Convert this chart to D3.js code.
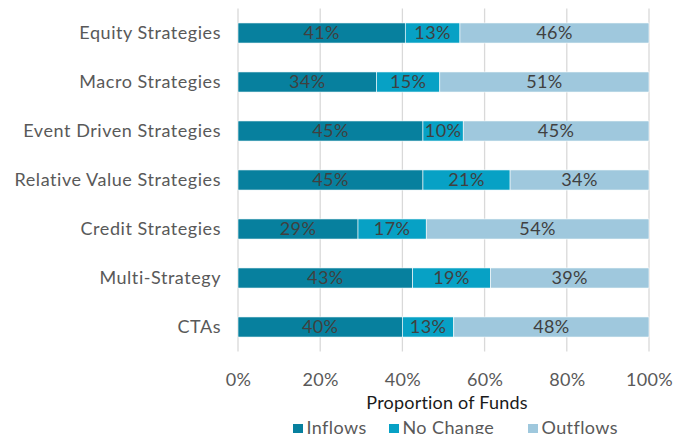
<!DOCTYPE html>
<meta charset="utf-8">
<style>
  body { margin: 0; background: #fff; }
  text { font-family: "Lato", "DejaVu Sans", sans-serif; }
</style>
<svg width="687" height="434"></svg>
<script src="https://d3js.org/d3.v7.min.js"></script>
<script>

var categories = ["Equity Strategies", "Macro Strategies", "Event Driven Strategies",
  "Relative Value Strategies", "Credit Strategies", "Multi-Strategy", "CTAs"];
var inflows   = [40.7, 33.7, 45.0, 45.0, 29.2, 42.5, 40.0];
var noChange  = [13.3, 15.4, 9.8, 21.2, 16.6, 18.9, 12.5];
var outflows  = [46.0, 50.9, 45.2, 33.8, 54.2, 38.6, 47.5];
var seriesNames = ["Inflows", "No Change", "Outflows"];
var colors = ["#07809e", "#07a1c5", "#9fc8dd"];
var tickValues = [0, 0.2, 0.4, 0.6, 0.8, 1];

var svg = d3.select("svg");
var margin = {left: 238, right: 38, top: 8.5, bottom: 82.5};
var width = 687 - margin.left - margin.right;
var height = 434 - margin.top - margin.bottom;

var g = svg.append("g").attr("transform", "translate(" + margin.left + "," + margin.top + ")");

var rows = categories.map(function(c, i) {
  return {cat: c, Inflows: inflows[i], "No Change": noChange[i], Outflows: outflows[i]};
});
var stack = d3.stack().keys(seriesNames).offset(d3.stackOffsetExpand);
var layers = stack(rows);

var x = d3.scaleLinear().domain([0, 1]).range([0, width]);
var y = d3.scaleBand().domain(categories).range([0, height]).paddingInner(0.59).paddingOuter(0.295);

// gridlines
g.append("g").selectAll("line")
  .data(tickValues)
  .enter().append("line")
  .attr("x1", function(d) { return x(d); })
  .attr("x2", function(d) { return x(d); })
  .attr("y1", 0)
  .attr("y2", height)
  .attr("stroke", "#d9d9d9")
  .attr("stroke-width", 1.3);

var layer = g.append("g").selectAll("g")
  .data(layers)
  .enter().append("g")
  .attr("fill", function(d, i) { return colors[i]; });

layer.selectAll("rect")
  .data(function(d) { return d; })
  .enter().append("rect")
  .attr("x", function(d) { return x(d[0]); })
  .attr("width", function(d) { return x(d[1]) - x(d[0]); })
  .attr("y", function(d) { return y(d.data.cat); })
  .attr("height", y.bandwidth())
  .attr("stroke", "#ffffff")
  .attr("stroke-width", 0.6);

layer.selectAll("text")
  .data(function(d) { return d.map(function(p) { p.key = d.key; return p; }); })
  .enter().append("text")
  .attr("x", function(d) { return (x(d[0]) + x(d[1])) / 2; })
  .attr("y", function(d) { return y(d.data.cat) + y.bandwidth() / 2; })
  .attr("dy", "0.36em")
  .attr("text-anchor", "middle")
  .attr("fill", "#404040")
  .attr("font-size", 18)
  .attr("letter-spacing", 0.4)
  .text(function(d) { return Math.round(d.data[d.key]) + "%"; });

// category axis
var yAxis = g.append("g").call(d3.axisLeft(y).tickSize(0).tickPadding(17));
yAxis.select(".domain").remove();
yAxis.selectAll("text").attr("font-size", 18).attr("fill", "#595959")
  .attr("letter-spacing", 0.55)
  .style("font-family", "Lato, sans-serif");

// value axis
var xAxis = g.append("g")
  .attr("transform", "translate(0," + height + ")")
  .call(d3.axisBottom(x).tickValues(tickValues).tickFormat(d3.format(".0%")).tickSize(0).tickPadding(22));
xAxis.select(".domain").remove();
xAxis.selectAll("text").attr("font-size", 18).attr("fill", "#595959")
  .attr("letter-spacing", 0.3)
  .style("font-family", "Lato, sans-serif");

svg.append("text")
  .attr("x", 447)
  .attr("y", 409)
  .attr("text-anchor", "middle")
  .attr("font-size", 18)
  .attr("letter-spacing", 0.2)
  .attr("fill", "#1a1a1a")
  .text("Proportion of Funds");

// legend
var legendX = [293, 389, 528];
var legend = svg.append("g").selectAll("g")
  .data(seriesNames)
  .enter().append("g")
  .attr("transform", function(d, i) { return "translate(" + legendX[i] + ",424)"; });
legend.append("rect")
  .attr("width", 10).attr("height", 9)
  .attr("fill", function(d, i) { return colors[i]; });
legend.append("text")
  .attr("x", 13.5).attr("y", 9.5)
  .attr("font-size", 18)
  .attr("letter-spacing", 0.4)
  .attr("fill", "#595959")
  .text(function(d) { return d; });

</script>
